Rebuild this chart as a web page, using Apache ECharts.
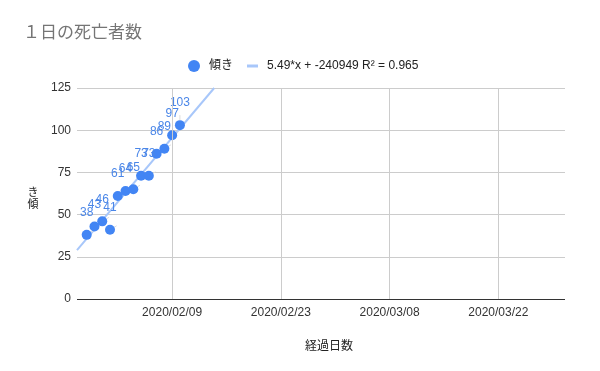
<!DOCTYPE html>
<html><head><meta charset="utf-8">
<script src="https://cdn.jsdelivr.net/npm/echarts@6/dist/echarts.min.js"></script>
<style>html,body{margin:0;padding:0;background:#fff}#c{width:600px;height:371px}</style>
</head><body><div id="c"></div>
<script>
const dates = ['2020-01-29','2020-01-30','2020-01-31','2020-02-01','2020-02-02','2020-02-03','2020-02-04','2020-02-05','2020-02-06','2020-02-07','2020-02-08','2020-02-09','2020-02-10'];
const deaths = [38,43,46,41,61,64,65,73,73,86,89,97,103];
const trendDates = ['2020-01-27T18:00:00Z','2020-02-14T10:00:00Z'];
const trendValues = [29,125];
const xTickDates = ['2020-02-09','2020-02-23','2020-03-08','2020-03-22'];
const yTicks = [0,25,50,75,100,125];
const xRange = ['2020-01-27T18:00:00Z','2020-03-30T14:00:00Z'];
const titleText = '１日の死亡者数';
const seriesName = '傾き';
const trendName = '5.49*x + -240949 R² = 0.965';
const xName = '経過日数';
const yName = 'き\n傾';

const t = s => new Date(s).getTime();
const fmt = v => { const d = new Date(v); const p = n => String(n).padStart(2,'0'); return d.getUTCFullYear()+'/'+p(d.getUTCMonth()+1)+'/'+p(d.getUTCDate()); };
const font = '"Liberation Sans", Arial, "Noto Sans CJK JP", sans-serif';
const xTicks = xTickDates.map(t);

const chart = echarts.init(document.getElementById('c'), null, {renderer:'canvas'});
chart.setOption({
  animation:false,
  textStyle:{fontFamily:font},
  title:{text:titleText,left:18,top:20,textStyle:{fontSize:17,fontWeight:'normal',color:'#757575',fontFamily:font}},
  legend:[
    {top:55,left:183,itemWidth:12,itemHeight:12,textStyle:{fontSize:12,color:'#222',fontFamily:font,padding:[0,0,0,4]},
      data:[{name:seriesName,icon:'circle'}]},
    {top:55,left:242,itemWidth:11,itemHeight:3,textStyle:{fontSize:12,color:'#222',fontFamily:font,padding:[0,0,0,4]},
      data:[{name:trendName,icon:'rect',itemStyle:{color:'#a8c7fa'}}]}
  ],
  graphic:[{type:'text',x:33,y:199,style:{text:yName,fontSize:11,lineHeight:12,fill:'#222',fontFamily:font,align:'center',verticalAlign:'middle'}}],
  grid:{left:77,right:35,top:88,bottom:72},
  xAxis:{type:'value',min:t(xRange[0]),max:t(xRange[1]),
    name:xName,nameLocation:'middle',nameGap:42,nameTextStyle:{fontSize:12,color:'#222',padding:[0,0,0,16]},
    axisLine:{show:false},axisTick:{show:false,customValues:xTicks},
    axisLabel:{customValues:xTicks,formatter:fmt,fontSize:12,color:'#333',margin:8},
    splitLine:{show:false}},
  yAxis:{type:'value',min:0,max:125,interval:25,
    axisLine:{show:false},axisTick:{show:false},
    axisLabel:{fontSize:12,color:'#333',margin:6},
    splitLine:{lineStyle:{color:'#cccccc',width:1}}},
  series:[
    {name:trendName,type:'line',symbol:'none',z:1,
      data:trendDates.map((d,i)=>[t(d),trendValues[i]]),
      lineStyle:{color:'#a8c7fa',width:2},itemStyle:{color:'#a8c7fa'},
      markLine:{silent:true,symbol:'none',label:{show:false},
        lineStyle:{color:'#cccccc',width:1,type:'solid'},
        data:[...xTicks.map(v=>({xAxis:v})),{yAxis:0,lineStyle:{color:'#333333',width:1}}]}},
    {name:seriesName,type:'scatter',symbolSize:10,z:3,
      data:dates.map((d,i)=>[t(d),deaths[i]]),
      itemStyle:{color:'#4285f4',opacity:1},
      label:{show:true,position:'top',distance:11,fontSize:12,color:'#4a86e8',formatter:p=>p.value[1]},
      labelLine:{show:true,lineStyle:{color:'#dddddd',width:1}}}
  ]
});
</script></body></html>
